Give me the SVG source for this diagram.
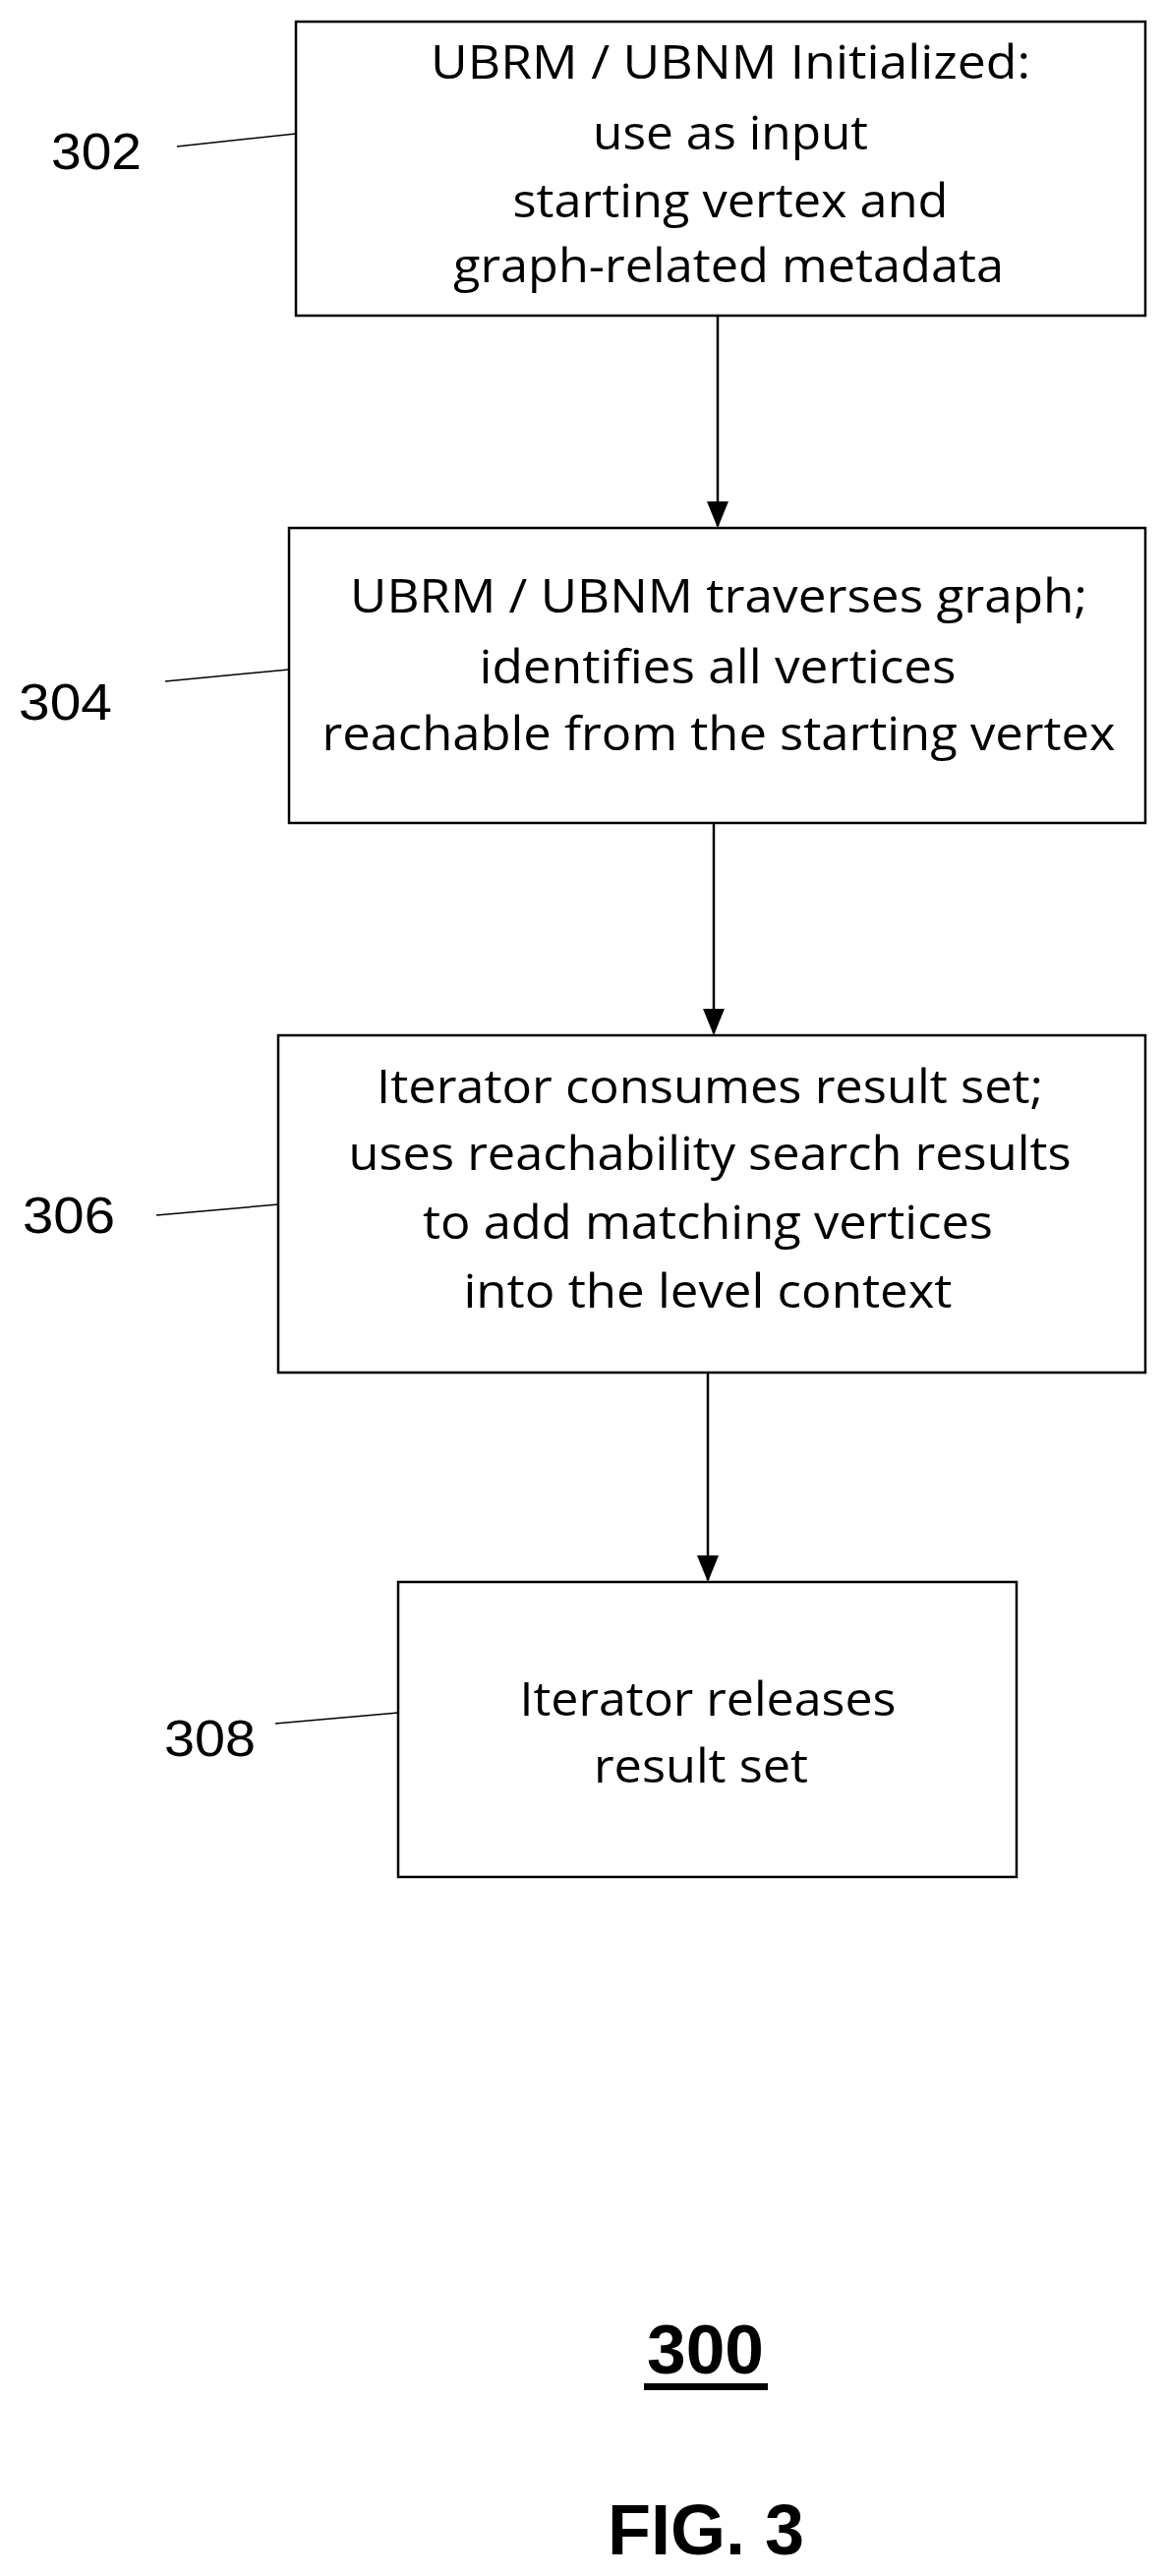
<svg xmlns="http://www.w3.org/2000/svg" width="1185" height="2620" viewBox="0 0 1185 2620">
<style>
.box{fill:#fff;stroke:#000;stroke-width:2.5}
.t{font-family:"Open Sans","Noto Sans",sans-serif;font-size:48px;fill:#000}
.lbl{font-family:"Liberation Sans",Arial,sans-serif;font-size:52px;fill:#000}
.ld{stroke:#000;stroke-width:1.5;fill:none}
.c{stroke:#000;stroke-width:2.5;fill:none;marker-end:url(#ah)}
.b{font-family:"Liberation Sans",Arial,sans-serif;font-weight:bold;fill:#000}
</style>
<defs>
<marker id="ah" viewBox="0 0 10 10" refX="10" refY="5" markerWidth="9" markerHeight="9" markerUnits="userSpaceOnUse" orient="auto">
<path d="M0,0 L10,5 L0,10 z" fill="#000"/>
</marker>
</defs>
<rect width="1185" height="2620" fill="#fff"/>
<g id="connectors">
<path class="c" d="M730,321 V535" style="marker-end:none"/>
<path d="M719,510 L741,510 L730,537 z" fill="#000"/>
<path class="c" d="M726,837 V1051" style="marker-end:none"/>
<path d="M715,1026 L737,1026 L726,1053 z" fill="#000"/>
<path class="c" d="M720,1396 V1607" style="marker-end:none"/>
<path d="M709,1582 L731,1582 L720,1609 z" fill="#000"/>
</g>
<g id="n302">
<rect class="box" x="301" y="22" width="864" height="299"/>
<text class="t" text-anchor="middle" x="743" y="80" textLength="610" lengthAdjust="spacingAndGlyphs">UBRM / UBNM Initialized:</text>
<text class="t" text-anchor="middle" x="743" y="152" textLength="280" lengthAdjust="spacingAndGlyphs">use as input</text>
<text class="t" text-anchor="middle" x="743" y="221" textLength="443" lengthAdjust="spacingAndGlyphs">starting vertex and</text>
<text class="t" text-anchor="middle" x="741" y="287" textLength="560" lengthAdjust="spacingAndGlyphs">graph-related metadata</text>
<text class="lbl" x="52" y="172" textLength="92" lengthAdjust="spacingAndGlyphs">302</text>
<line class="ld" x1="180" y1="149" x2="301" y2="136"/>
</g>
<g id="n304">
<rect class="box" x="294" y="537" width="871" height="300"/>
<text class="t" text-anchor="middle" x="731" y="623" textLength="750" lengthAdjust="spacingAndGlyphs">UBRM / UBNM traverses graph;</text>
<text class="t" text-anchor="middle" x="730" y="695" textLength="485" lengthAdjust="spacingAndGlyphs">identifies all vertices</text>
<text class="t" text-anchor="middle" x="731" y="763" textLength="807" lengthAdjust="spacingAndGlyphs">reachable from the starting vertex</text>
<text class="lbl" x="19" y="732" textLength="95" lengthAdjust="spacingAndGlyphs">304</text>
<line class="ld" x1="168" y1="693" x2="294" y2="681"/>
</g>
<g id="n306">
<rect class="box" x="283" y="1053" width="882" height="343"/>
<text class="t" text-anchor="middle" x="722" y="1122" textLength="678" lengthAdjust="spacingAndGlyphs">Iterator consumes result set;</text>
<text class="t" text-anchor="middle" x="722" y="1190" textLength="735" lengthAdjust="spacingAndGlyphs">uses reachability search results</text>
<text class="t" text-anchor="middle" x="720" y="1260" textLength="580" lengthAdjust="spacingAndGlyphs">to add matching vertices</text>
<text class="t" text-anchor="middle" x="720" y="1330" textLength="497" lengthAdjust="spacingAndGlyphs">into the level context</text>
<text class="lbl" x="23" y="1254" textLength="94" lengthAdjust="spacingAndGlyphs">306</text>
<line class="ld" x1="159" y1="1236" x2="283" y2="1225"/>
</g>
<g id="n308">
<rect class="box" x="405" y="1609" width="629" height="300"/>
<text class="t" text-anchor="middle" x="720" y="1745" textLength="383" lengthAdjust="spacingAndGlyphs">Iterator releases</text>
<text class="t" text-anchor="middle" x="713" y="1813" textLength="218" lengthAdjust="spacingAndGlyphs">result set</text>
<text class="lbl" x="167" y="1786" textLength="93" lengthAdjust="spacingAndGlyphs">308</text>
<line class="ld" x1="280" y1="1753" x2="405" y2="1742"/>
</g>
<g id="caption">
<text class="b" x="658" y="2414" font-size="70" textLength="119" lengthAdjust="spacingAndGlyphs">300</text>
<rect x="655" y="2424" width="126" height="7" fill="#000"/>
<text class="b" x="618" y="2598" font-size="73" textLength="200" lengthAdjust="spacingAndGlyphs">FIG. 3</text>
</g>
</svg>
